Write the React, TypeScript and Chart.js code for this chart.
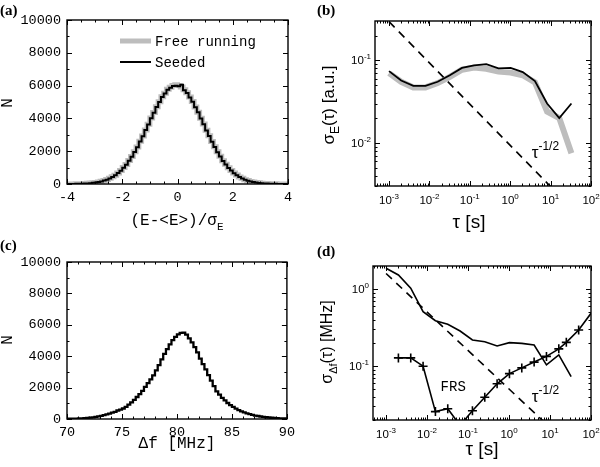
import React, { useEffect, useRef } from 'react';
import { Chart, registerables } from 'chart.js';

Chart.register(...registerables);

const MONO = "'Liberation Mono', 'DejaVu Sans Mono', monospace";
const SANS = "'Liberation Sans', Arial, 'DejaVu Sans', sans-serif";
const SERIF = "'Liberation Serif', 'Times New Roman', serif";
const GRAY = '#bdbdbd';

// ---------- Panel (a): energy histogram ----------
const energyBinStart = -4;
const energyBinWidth = 0.1;
const seededCounts = [
  2, 3, 4, 6, 9, 14, 20, 27, 38, 50,
  70, 92, 122, 158, 206, 262, 340, 430, 530, 665,
  815, 990, 1180, 1420, 1660, 1950, 2240, 2590, 2910, 3290,
  3630, 4010, 4340, 4700, 5000, 5310, 5520, 5750, 5870, 5980,
  5990, 5960, 6050, 5720, 5550, 5280, 5020, 4680, 4370, 3990,
  3650, 3260, 2930, 2570, 2260, 1940, 1680, 1400, 1190, 980,
  820, 655, 540, 420, 340, 260, 205, 155, 120, 88,
  68, 48, 36, 26, 18, 13, 9, 6, 4, 3,
];
const freeRunningCounts = [
  3, 4, 5, 7, 10, 15, 21, 29, 40, 54,
  72, 96, 126, 162, 210, 268, 345, 435, 540, 670,
  820, 1000, 1190, 1430, 1670, 1960, 2250, 2600, 2930, 3300,
  3650, 4020, 4360, 4710, 5020, 5320, 5540, 5770, 5900, 6010,
  6050, 6000, 5920, 5750, 5560, 5300, 5030, 4700, 4380, 4010,
  3660, 3280, 2940, 2590, 2270, 1960, 1690, 1420, 1200, 990,
  830, 665, 545, 430, 345, 265, 210, 160, 122, 90,
  70, 50, 37, 27, 19, 14, 10, 7, 5, 3,
];
const energyTicks = [-4, -2, 0, 2, 4];
const countTicks = [0, 2000, 4000, 6000, 8000, 10000];

// ---------- Panel (c): frequency histogram ----------
const freqBinStart = 70;
const freqBinWidth = 0.25;
const freqCounts = [
  13, 16, 19, 23, 28, 34, 41, 50,
  63, 83, 108, 135, 165, 200, 245, 295,
  345, 400, 460, 540, 600, 670, 770, 920,
  1060, 1220, 1400, 1590, 1790, 2040, 2280, 2520,
  2780, 3100, 3430, 3800, 4150, 4450, 4750, 5020,
  5230, 5390, 5480, 5500, 5370, 5130, 4880, 4580,
  4250, 3850, 3500, 3160, 2800, 2440, 2100, 1760,
  1550, 1350, 1190, 1020, 880, 770, 660, 570,
  490, 420, 360, 305, 260, 220, 190, 160,
  135, 112, 95, 80, 65, 52, 42, 33,
];
const freqTicks = [70, 75, 80, 85, 90];

// ---------- Panel (b): energy Allan deviation ----------
const tauOctaves = [0.001, 0.002, 0.004, 0.008, 0.016, 0.032, 0.064, 0.128, 0.256, 0.512, 1.024, 2.048, 4.096, 8.192, 16.384, 32.768];
const sigmaESeeded = [0.074, 0.057, 0.049, 0.049, 0.055, 0.066, 0.081, 0.087, 0.090, 0.080, 0.081, 0.072, 0.056, 0.030, 0.020, 0.030];
const sigmaEFree = [0.070, 0.055, 0.047, 0.047, 0.053, 0.063, 0.077, 0.082, 0.079, 0.073, 0.071, 0.066, 0.054, 0.024, 0.020, 0.0075];
const slopeTauB = [0.001, 10];
const slopeSigmaB = [0.295, 0.00295];

// ---------- Panel (d): frequency Allan deviation ----------
const sigmaDfSeeded = [1.87, 1.53, 1.03, 0.51, 0.39, 0.35, 0.286, 0.219, 0.208, 0.183, 0.202, 0.198, 0.188, 0.104, 0.140, 0.073];
const frsTau = [0.002, 0.004, 0.008, 0.016, 0.032, 0.064, 0.128, 0.256, 0.512, 1.024, 2.048, 4.096, 8.192, 16.384, 25, 50, 100];
const frsSigma = [0.128, 0.128, 0.100, 0.0257, 0.028, 0.017, 0.0264, 0.0395, 0.059, 0.080, 0.095, 0.113, 0.134, 0.168, 0.204, 0.295, 0.486];
const slopeTauD = [0.001, 10];
const slopeSigmaD = [1.6, 0.016];

const decadeTicks = [1e-3, 1e-2, 1e-1, 1, 10, 100];

// ---------- helpers ----------
type Seg = { t: string; k?: 'sub' | 'sup' };
type TextItem = {
  segs: Seg[];
  x: number;
  y: number;
  size: number;
  family: string;
  align?: 'left' | 'center' | 'right';
  rot?: number;
  weight?: string;
  data?: boolean;
};
type LineItem = { x1: number; y1: number; x2: number; y2: number; color: string; width: number };
type PanelSpec = {
  id: string;
  xLog?: boolean;
  yLog?: boolean;
  xMinor?: number;
  yMinor?: number;
  texts: TextItem[];
  lines?: LineItem[];
};

const histPoints = (start: number, width: number, counts: number[]) => {
  const pts = counts.map((c, i) => ({ x: start + i * width, y: c }));
  pts.push({ x: start + counts.length * width, y: counts[counts.length - 1] });
  return pts;
};
const pairPoints = (xs: number[], ys: number[]) => xs.map((x, i) => ({ x, y: ys[i] }));

function drawRich(
  ctx: CanvasRenderingContext2D,
  segs: Seg[],
  x: number,
  y: number,
  size: number,
  family: string,
  align: 'left' | 'center' | 'right' = 'left',
  rot = 0,
  weight = 'normal'
) {
  ctx.save();
  ctx.translate(x, y);
  ctx.rotate(rot);
  const fontFor = (k?: string) => `${weight} ${k ? Math.round(size * 0.68) : size}px ${family}`;
  let total = 0;
  for (const s of segs) {
    ctx.font = fontFor(s.k);
    total += ctx.measureText(s.t).width;
  }
  let cx = align === 'left' ? 0 : align === 'center' ? -total / 2 : -total;
  ctx.textBaseline = 'alphabetic';
  ctx.textAlign = 'left';
  ctx.fillStyle = '#000';
  for (const s of segs) {
    ctx.font = fontFor(s.k);
    const dy = s.k === 'sub' ? size * 0.3 : s.k === 'sup' ? -size * 0.45 : 0;
    ctx.fillText(s.t, cx, dy);
    cx += ctx.measureText(s.t).width;
  }
  ctx.restore();
}

function minorValues(min: number, max: number, log?: boolean, step?: number) {
  const out: number[] = [];
  if (log) {
    const lo = Math.floor(Math.log10(min));
    const hi = Math.ceil(Math.log10(max));
    for (let e = lo; e <= hi; e++) {
      for (let m = 2; m <= 9; m++) {
        const v = m * Math.pow(10, e);
        if (v >= min && v <= max) out.push(v);
      }
    }
  } else if (step) {
    for (let v = Math.ceil(min / step) * step; v <= max + 1e-9; v += step) out.push(v);
  }
  return out;
}

const supLabel = (v: number): Seg[] => {
  const e = Math.round(Math.log10(v));
  return [{ t: '10' }, { t: String(e), k: 'sup' }];
};

function framePlugin(spec: PanelSpec) {
  return {
    id: 'frame-' + spec.id,
    afterDraw(chart: any) {
      const ctx: CanvasRenderingContext2D = chart.ctx;
      const { left, right, top, bottom } = chart.chartArea;
      const xs = chart.scales.x;
      const ys = chart.scales.y;
      ctx.save();
      ctx.strokeStyle = '#000';
      ctx.lineWidth = 1;
      const xMaj = xs.ticks.map((t: any) => t.value);
      const yMaj = ys.ticks.map((t: any) => t.value);
      const xMin = minorValues(xs.min, xs.max, spec.xLog, spec.xMinor);
      const yMin = minorValues(ys.min, ys.max, spec.yLog, spec.yMinor);
      ctx.beginPath();
      const xt = (vals: number[], len: number) =>
        vals.forEach((v) => {
          const p = Math.round(xs.getPixelForValue(v)) + 0.5;
          ctx.moveTo(p, bottom);
          ctx.lineTo(p, bottom - len);
          ctx.moveTo(p, top);
          ctx.lineTo(p, top + len);
        });
      const yt = (vals: number[], len: number) =>
        vals.forEach((v) => {
          const p = Math.round(ys.getPixelForValue(v)) + 0.5;
          ctx.moveTo(left, p);
          ctx.lineTo(left + len, p);
          ctx.moveTo(right, p);
          ctx.lineTo(right - len, p);
        });
      xt(xMaj, 5);
      xt(xMin, 2.5);
      yt(yMaj, 5);
      yt(yMin, 2.5);
      ctx.stroke();
      ctx.lineWidth = 1.4;
      ctx.strokeRect(left, top, right - left, bottom - top);

      if (spec.xLog) {
        xMaj.forEach((v: number) => {
          drawRich(ctx, supLabel(v), xs.getPixelForValue(v), bottom + 18, 11.5, SANS, 'center');
        });
      }
      if (spec.yLog) {
        yMaj.forEach((v: number) => {
          drawRich(ctx, supLabel(v), left - 4, ys.getPixelForValue(v) + 4, 11.5, SANS, 'right');
        });
      }
      (spec.lines || []).forEach((l) => {
        ctx.beginPath();
        ctx.strokeStyle = l.color;
        ctx.lineWidth = l.width;
        ctx.moveTo(l.x1, l.y1);
        ctx.lineTo(l.x2, l.y2);
        ctx.stroke();
      });
      spec.texts.forEach((t) => {
        const px = t.data ? xs.getPixelForValue(t.x) : t.x;
        const py = t.data ? ys.getPixelForValue(t.y) : t.y;
        drawRich(ctx, t.segs, px, py, t.size, t.family, t.align || 'left', t.rot || 0, t.weight || 'normal');
      });
      ctx.restore();
    },
  };
}

const common = (padTop: number, padRight: number) => ({
  animation: false as const,
  responsive: false,
  maintainAspectRatio: false,
  events: [] as any[],
  layout: { padding: { top: padTop, right: padRight, left: 0, bottom: 0 } },
  plugins: { legend: { display: false }, tooltip: { enabled: false } },
});

const linAxis = (min: number, max: number, ticks: number[], fit: (s: any) => void, padding: number) => ({
  type: 'linear' as const,
  min,
  max,
  afterBuildTicks: (s: any) => {
    s.ticks = ticks.map((value) => ({ value }));
  },
  afterFit: fit,
  grid: { display: false, drawTicks: false },
  border: { display: false },
  ticks: {
    font: { family: MONO, size: 13.5 },
    color: '#000',
    padding,
    maxRotation: 0,
    autoSkip: false,
    callback: (v: any) => String(v),
  },
});

const logAxis = (min: number, max: number, fit: (s: any) => void) => ({
  type: 'logarithmic' as const,
  min,
  max,
  afterBuildTicks: (s: any) => {
    s.ticks = decadeTicks.filter((v) => v >= min * 0.999 && v <= max * 1.001).map((value) => ({ value }));
  },
  afterFit: fit,
  grid: { display: false, drawTicks: false },
  border: { display: false },
  ticks: { display: false },
});

const histLine = (data: any[], color: string, width: number) => ({
  data,
  stepped: 'after' as const,
  borderColor: color,
  borderWidth: width,
  pointRadius: 0,
  fill: false,
  clip: 0,
});

const plainLine = (data: any[], color: string, width: number, extra: any = {}) => ({
  data,
  borderColor: color,
  borderWidth: width,
  pointRadius: 0,
  fill: false,
  clip: 0,
  tension: 0,
  ...extra,
});

function configA(): any {
  return {
    type: 'line',
    data: {
      datasets: [
        { label: 'Seeded', ...histLine(histPoints(energyBinStart, energyBinWidth, seededCounts), '#000', 2) },
        { label: 'Free running', ...histLine(histPoints(energyBinStart, energyBinWidth, freeRunningCounts), GRAY, 5) },
      ],
    },
    options: {
      ...common(20, 12),
      scales: {
        x: linAxis(-4, 4, energyTicks, (s) => { s.height = 48; }, 5),
        y: linAxis(0, 10000, countTicks, (s) => { s.width = 67; }, 6),
      },
    },
    plugins: [
      framePlugin({
        id: 'a',
        xMinor: 0.5,
        yMinor: 1000,
        lines: [
          { x1: 120, y1: 41, x2: 151, y2: 41, color: GRAY, width: 5 },
          { x1: 120, y1: 62, x2: 151, y2: 62, color: '#000', width: 2 },
        ],
        texts: [
          { segs: [{ t: '(a)' }], x: 0, y: 15, size: 15, family: SERIF, weight: 'bold' },
          { segs: [{ t: 'Free running' }], x: 155, y: 46, size: 14, family: MONO },
          { segs: [{ t: 'Seeded' }], x: 155, y: 67, size: 14, family: MONO },
          { segs: [{ t: '(E-<E>)/σ' }, { t: 'E', k: 'sub' }], x: 177, y: 225, size: 16, family: MONO, align: 'center' },
          { segs: [{ t: 'N' }], x: 12, y: 103, size: 16, family: MONO, align: 'center', rot: -Math.PI / 2 },
        ],
      }),
    ],
  };
}

function configB(): any {
  return {
    type: 'line',
    data: {
      datasets: [
        { label: 'slope', ...plainLine(pairPoints(slopeTauB, slopeSigmaB), '#000', 1.6, { borderDash: [8, 6] }) },
        { label: 'Seeded', ...plainLine(pairPoints(tauOctaves, sigmaESeeded), '#000', 1.8) },
        { label: 'Free running', ...plainLine(pairPoints(tauOctaves, sigmaEFree), GRAY, 6) },
      ],
    },
    options: {
      ...common(21, 9),
      scales: {
        x: logAxis(0.00045, 100, (s) => { s.height = 46; }),
        y: logAxis(0.003, 0.3, (s) => { s.width = 75; }),
      },
    },
    plugins: [
      framePlugin({
        id: 'b',
        xLog: true,
        yLog: true,
        texts: [
          { segs: [{ t: '(b)' }], x: 17, y: 15, size: 15, family: SERIF, weight: 'bold' },
          { segs: [{ t: 'τ [s]' }], x: 169, y: 228, size: 19, family: SANS, align: 'center' },
          { segs: [{ t: 'σ' }, { t: 'E', k: 'sub' }, { t: '(τ) [a.u.]' }], x: 34, y: 105, size: 17, family: SANS, align: 'center', rot: -Math.PI / 2 },
          { segs: [{ t: 'τ' }, { t: '-1/2', k: 'sup' }], x: 3.4, y: 0.0066, size: 17, family: SANS, data: true },
        ],
      }),
    ],
  };
}

function configC(): any {
  return {
    type: 'line',
    data: {
      datasets: [{ label: 'Δf', ...histLine(histPoints(freqBinStart, freqBinWidth, freqCounts), '#000', 2.3) }],
    },
    options: {
      ...common(30, 13),
      scales: {
        x: linAxis(70, 90, freqTicks, (s) => { s.height = 48; }, 5),
        y: linAxis(0, 10000, countTicks, (s) => { s.width = 67; }, 6),
      },
    },
    plugins: [
      framePlugin({
        id: 'c',
        xMinor: 1,
        yMinor: 1000,
        texts: [
          { segs: [{ t: '(c)' }], x: 0, y: 18, size: 15, family: SERIF, weight: 'bold' },
          { segs: [{ t: 'Δf [MHz]' }], x: 177, y: 216, size: 16, family: MONO, align: 'center' },
          { segs: [{ t: 'N' }], x: 12, y: 108, size: 16, family: MONO, align: 'center', rot: -Math.PI / 2 },
        ],
      }),
    ],
  };
}

function configD(): any {
  return {
    type: 'line',
    data: {
      datasets: [
        { label: 'slope', ...plainLine(pairPoints(slopeTauD, slopeSigmaD), '#000', 1.6, { borderDash: [8, 6] }) },
        { label: 'Seeded', ...plainLine(pairPoints(tauOctaves, sigmaDfSeeded), '#000', 1.6) },
        {
          label: 'FRS',
          ...plainLine(pairPoints(frsTau, frsSigma), '#000', 1.6, {
            pointStyle: 'cross',
            pointRadius: frsTau.map((_, i) => (i === frsTau.length - 1 ? 0 : 4.5)),
            pointBorderColor: '#000',
            pointBorderWidth: 1.6,
          }),
        },
      ],
    },
    options: {
      ...common(34, 9),
      scales: {
        x: logAxis(0.00048, 100, (s) => { s.height = 47; }),
        y: logAxis(0.02, 2.0, (s) => { s.width = 73; }),
      },
    },
    plugins: [
      framePlugin({
        id: 'd',
        xLog: true,
        yLog: true,
        texts: [
          { segs: [{ t: '(d)' }], x: 17, y: 24, size: 15, family: SERIF, weight: 'bold' },
          { segs: [{ t: 'τ [s]' }], x: 182, y: 223, size: 19, family: SANS, align: 'center' },
          { segs: [{ t: 'σ' }, { t: 'Δf', k: 'sub' }, { t: '(τ) [MHz]' }], x: 32, y: 110, size: 16, family: SANS, align: 'center', rot: -Math.PI / 2 },
          { segs: [{ t: 'FRS' }], x: 0.0214, y: 0.0477, size: 14, family: MONO, data: true },
          { segs: [{ t: 'τ' }, { t: '-1/2', k: 'sup' }], x: 3.6, y: 0.0343, size: 17, family: SANS, data: true },
        ],
      }),
    ],
  };
}

function Panel({ left, top, width, height, build }: { left: number; top: number; width: number; height: number; build: () => any }) {
  const ref = useRef<HTMLCanvasElement>(null);
  useEffect(() => {
    if (!ref.current) return;
    const chart = new Chart(ref.current, build());
    return () => chart.destroy();
  }, []);
  return (
    <canvas
      ref={ref}
      width={width}
      height={height}
      style={{ position: 'absolute', left, top, width, height, display: 'block' }}
    />
  );
}

export default function App() {
  return (
    <div style={{ position: 'absolute', left: 0, top: 0, width: 600, height: 467, background: '#fff', overflow: 'hidden' }}>
      <Panel left={0} top={0} width={300} height={232} build={configA} />
      <Panel left={300} top={0} width={300} height={232} build={configB} />
      <Panel left={0} top={232} width={300} height={235} build={configC} />
      <Panel left={300} top={232} width={300} height={235} build={configD} />
    </div>
  );
}
